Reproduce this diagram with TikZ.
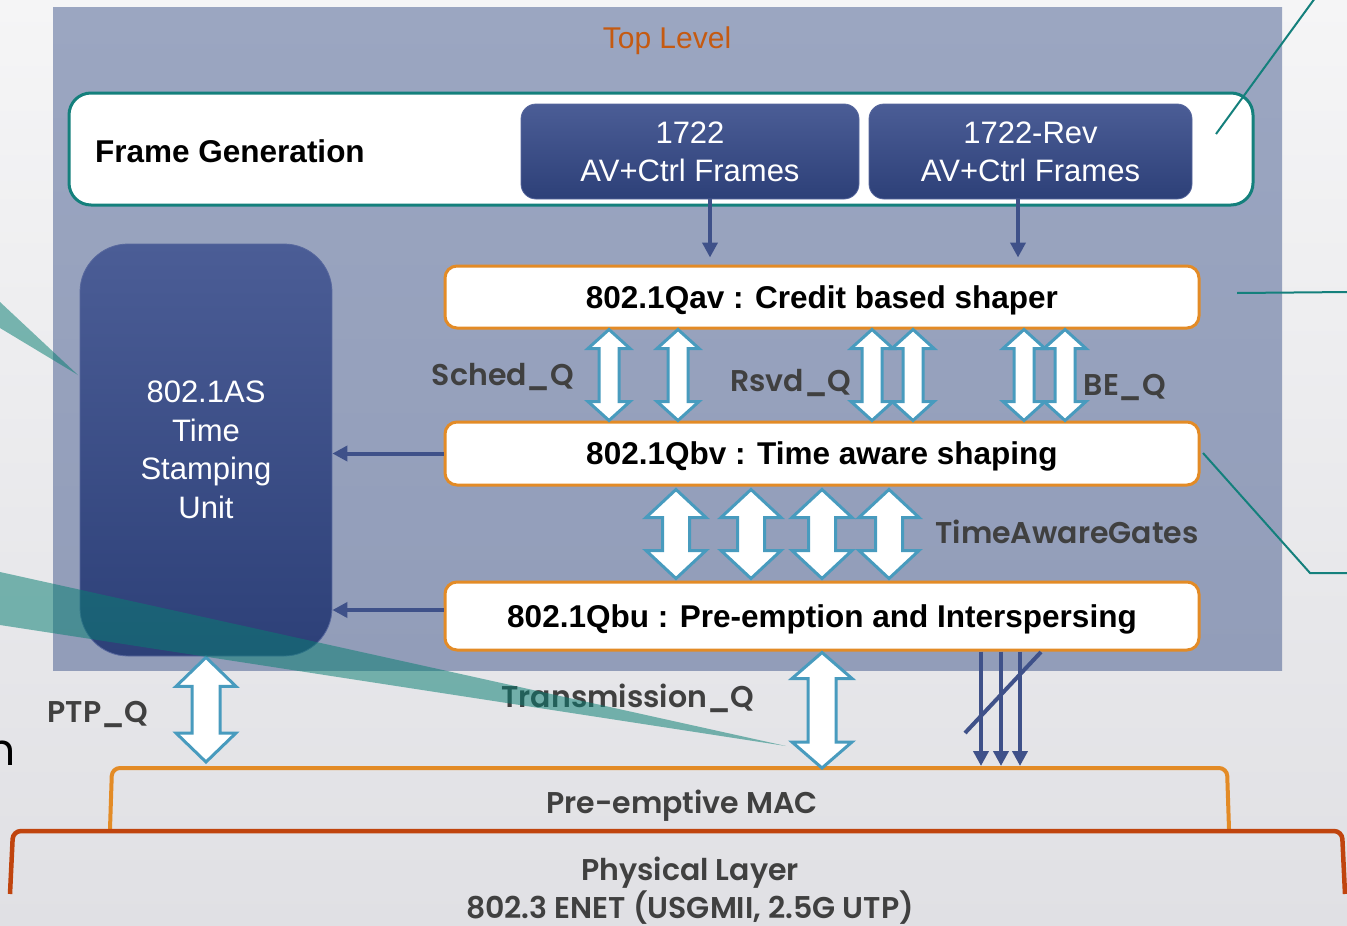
\documentclass[tikz,border=0pt]{standalone}
\usepackage{fontspec}
\setmainfont{Liberation Sans}
\newfontfamily\gothic{Poppins}[BoldFont={Poppins SemiBold}]
\usetikzlibrary{calc,arrows.meta}

\definecolor{bgtop}{RGB}{245,245,246}
\definecolor{bgbot}{RGB}{224,224,228}
\definecolor{tltop}{RGB}{155,166,193}
\definecolor{tlbot}{RGB}{146,157,185}
\definecolor{tealc}{RGB}{20,128,124}
\definecolor{navytop}{RGB}{75,93,150}
\definecolor{navybot}{RGB}{45,64,120}
\definecolor{navyedge}{RGB}{88,104,158}
\definecolor{navyline}{RGB}{63,81,137}
\definecolor{orangec}{RGB}{227,139,38}
\definecolor{rustc}{RGB}{192,68,14}
\definecolor{arrblue}{RGB}{72,155,190}
\definecolor{labelgray}{RGB}{64,64,64}
\definecolor{toplvl}{RGB}{197,90,17}
\definecolor{bandteal}{RGB}{8,126,114}

\newcommand\fsz[2]{\fontsize{#1}{#2}\selectfont}
% hollow two-headed block arrow: #1 top tip, #2 bottom tip,
% #3 head half width, #4 shaft half width, #5 head length
\newcommand\dblarr[5]{%
  \draw[blockarr] (#1) -- ($(#1)+(#3,#5)$) -- ($(#1)+(#4,#5)$)
    -- ($(#2)+(#4,-#5)$) -- ($(#2)+(#3,-#5)$) -- (#2)
    -- ($(#2)+(-#3,-#5)$) -- ($(#2)+(-#4,-#5)$)
    -- ($(#1)+(-#4,#5)$) -- ($(#1)+(-#3,#5)$) -- cycle;}

\begin{document}
\begin{tikzpicture}[x=1pt,y=-1pt,
  framebox/.style={draw=tealc, line width=3pt, fill=white, rounded corners=22pt,
    minimum width=1184pt, minimum height=112pt, inner sep=0pt},
  navybox/.style={top color=navytop, bottom color=navybot, draw=navyedge, line width=0.8pt,
    rounded corners=15pt, minimum height=95pt, text=white, align=center,
    font=\fsz{31}{38}, inner sep=0pt},
  qbox/.style={draw=orangec, line width=3pt, fill=white, rounded corners=12pt,
    minimum width=754pt, text height=22.5pt, text depth=0pt, inner sep=0pt,
    font=\bfseries\fsz{31.5}{36}},
  tsubox/.style={top color=navytop, bottom color=navybot, draw=navyedge, line width=0.8pt,
    rounded corners=48pt, minimum width=252pt, minimum height=412pt, text=white,
    align=center, font=\fsz{31}{38.5}, inner sep=0pt},
  darr/.style={navyline, line width=4pt, -{Triangle[length=15pt,width=15pt]}},
  blockarr/.style={fill=white, draw=arrblue, line width=3pt, line join=miter},
  lbl/.style={text=labelgray, font=\gothic\bfseries\fsz{30}{30}, anchor=base, inner sep=0pt},
  callout/.style={tealc, line width=2pt},
  band/.style={fill=bandteal, opacity=0.52}]

\useasboundingbox (0,0) rectangle (1347,926);
% page background and top-level panel
\fill[top color=bgtop, bottom color=bgbot] (0,0) rectangle (1347,926);
\fill[top color=tltop, bottom color=tlbot] (53,7) rectangle (1282,670);
\node[text=toplvl, font=\fsz{30}{30}, anchor=base, inner sep=0pt] (toplevel) at (667,48) {Top Level};

% frame generation
\node[framebox] (fgen) at (661,149) {};
\node[font=\bfseries\fsz{31.5}{36}, anchor=base west, inner sep=0pt] (fgenlbl) at (95,162) {Frame Generation};
\node[navybox, minimum width=338pt] (f1722) at (690,151.5) {1722\\AV+Ctrl Frames};
\node[navybox, minimum width=323pt] (f1722r) at (1030.5,151.5) {1722-Rev\\AV+Ctrl Frames};

% shaper stack
\node[qbox, minimum height=62pt] (qav) at (822,297) {802.1Qav : Credit based shaper};
\node[qbox, minimum height=63pt] (qbv) at (822,453.5) {802.1Qbv : Time aware shaping};
\node[qbox, minimum height=68pt] (qbu) at (822,616) {802.1Qbu : Pre-emption and Interspersing};

% time stamping unit
\node[tsubox] (tsu) at (206,450) {802.1AS\\Time\\Stamping\\Unit};

% frame sources into the credit based shaper
\draw[darr, shorten >=7pt] (f1722.south -| 710,0) -- (qav.north -| 710,0);
\draw[darr, shorten >=7pt] (f1722r.south -| 1018,0) -- (qav.north -| 1018,0);

% timestamp taps
\draw[darr] (qbv.west) -- (qbv.west -| tsu.east);
\draw[darr] (qbu.west |- 0,610) -- (tsu.east |- 0,610);

% queues between Qav and Qbv
\foreach \x [count=\i] in {609,678,872,913,1024,1065} {
  \coordinate (qt\i) at (qav.south -| \x,0);
  \coordinate (qb\i) at (qbv.north -| \x,0);
  \dblarr{qt\i}{qb\i}{21}{10}{19}
}
% gates between Qbv and Qbu
\foreach \x [count=\i] in {676,751,822,889} {
  \coordinate (gt\i) at ($(qbv.south -| \x,0)+(0,3)$);
  \coordinate (gb\i) at ($(qbu.north -| \x,0)+(0,-2)$);
  \dblarr{gt\i}{gb\i}{30}{13.5}{28}
}

\node[lbl] (schedq) at (503,385) {Sched\_Q};
\node[lbl] (rsvdq) at (791,391) {Rsvd\_Q};
\node[lbl] (beq) at (1125,395) {BE\_Q};
\node[lbl] (gates) at (1067,543) {TimeAwareGates};

% MAC and physical layer
\coordinate (macL) at (112,768);
\coordinate (macR) at (1227,768);
\draw[orangec, line width=4pt, rounded corners=8pt] (110,829) -- (macL) -- (macR) -- (1229,829);
\node[lbl] (mac) at (682,813) {Pre-emptive MAC};
\coordinate (phyL) at (13,831);
\coordinate (phyR) at (1342,831);
\draw[rustc, line width=4.5pt, rounded corners=8pt] (10,894) -- (phyL) -- (phyR) -- (1345,894);
\node[lbl] (phy) at (690,880) {Physical Layer};
\node[lbl] (enet) at (690,918) {802.3 ENET (USGMII, 2.5G UTP)};

% queues down to the MAC
\coordinate (ptpt) at ($(tsu.south -| 206,0)+(0,1)$);
\coordinate (ptpb) at ($(macL -| 206,0)+(0,-6)$);
\dblarr{ptpt}{ptpb}{30}{14}{29}
\node[lbl] (ptpq) at (98,722) {PTP\_Q};
\coordinate (txt) at ($(qbu.south -| 822,0)+(0,1)$);
\coordinate (txb) at (macL -| 822,0);
\dblarr{txt}{txb}{30}{14}{26}
\node[lbl] (txq) at (628,707) {Transmission\_Q};

\foreach \x in {981,1001,1020}
  \draw[darr] (qbu.south -| \x,0) -- ($(macL -| \x,0)+(0,-2)$);
\draw[navyline, line width=4pt] (965,733) -- (1041,652);

% callout leaders
\draw[callout] (1216,134) -- (1318,-6);
\draw[callout] (1237,293) -- (1350,292);
\draw[callout] (1203,453) -- (1310,573) -- (1350,573);
\fill[band] (0,302) -- (78,375) -- (0,328) -- cycle;
\fill[band] (0,572) -- (786,746) -- (0,625) -- cycle;
\node[font=\gothic\fsz{44}{44}, anchor=base east, inner sep=0pt] (cut) at (16,765) {n};
\end{tikzpicture}
\end{document}
